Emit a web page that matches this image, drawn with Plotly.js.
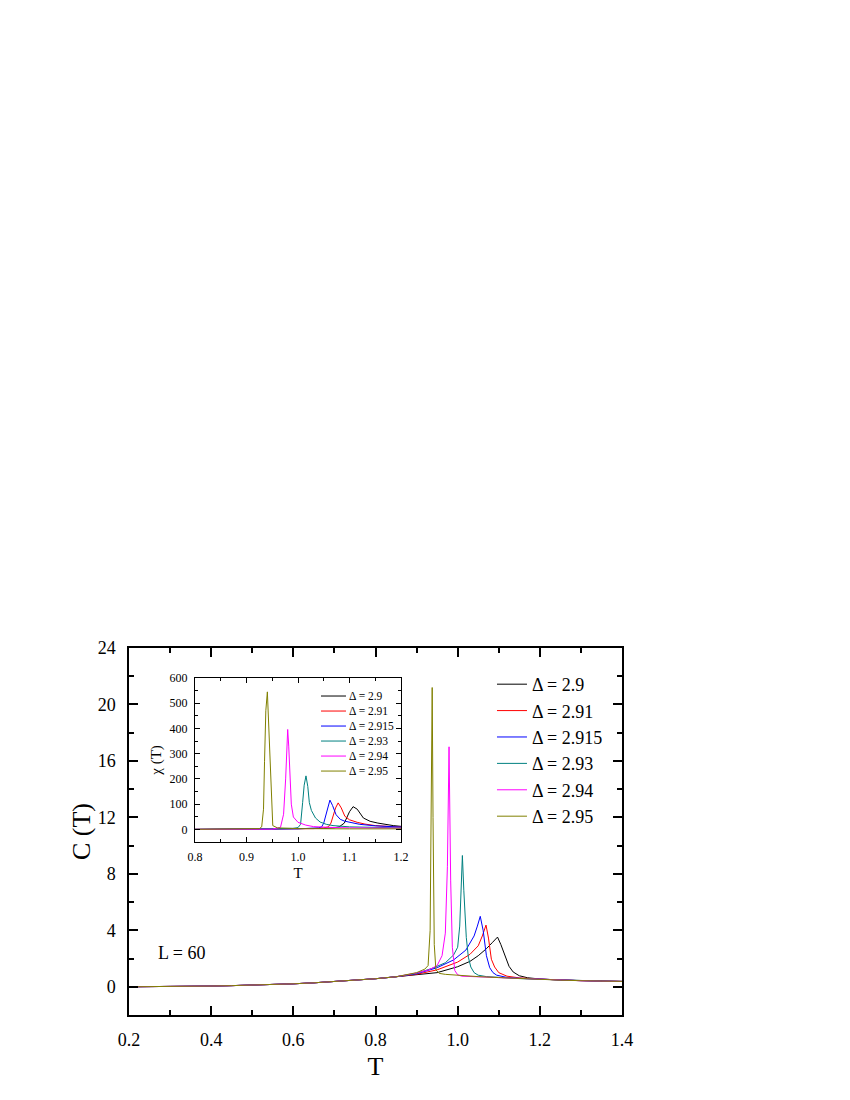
<!DOCTYPE html>
<html>
<head>
<meta charset="utf-8">
<script src="https://cdn.plot.ly/plotly-3.0.1.min.js"></script>
<style>html,body{margin:0;padding:0;background:#fff;}</style>
</head>
<body>
<div id="chart" style="width:850px;height:1100px;"></div>
<script>
// ---- Labels and colours ----
const deltaLabels = ['Δ = 2.9', 'Δ = 2.91', 'Δ = 2.915', 'Δ = 2.93', 'Δ = 2.94', 'Δ = 2.95'];
const lineColors = ['#000000', '#ff0000', '#0000ff', '#008080', '#ff00ff', '#808000'];

// ---- Main panel: specific heat C(T), L = 60 ----
// common low-temperature part (curves overlap)
const baseT = [0.2, 0.25, 0.3, 0.35, 0.4, 0.45, 0.5, 0.55, 0.6, 0.65, 0.7, 0.75, 0.8, 0.85];
const baseC = [0.0, 0.005, 0.015, 0.03, 0.05, 0.08, 0.11, 0.16, 0.21, 0.28, 0.36, 0.46, 0.57, 0.71];

const T_d290 = [0.9, 0.95, 1.0, 1.03, 1.05, 1.07, 1.085, 1.097, 1.105, 1.115, 1.125, 1.135, 1.15, 1.17, 1.2, 1.25, 1.3, 1.35, 1.4];
const C_d290 = [0.86, 1.0, 1.42, 1.8, 2.2, 2.7, 3.15, 3.52, 3.0, 2.15, 1.45, 1.05, 0.78, 0.64, 0.55, 0.48, 0.43, 0.4, 0.38];

const T_d291 = [0.9, 0.95, 1.0, 1.03, 1.05, 1.06, 1.069, 1.075, 1.082, 1.09, 1.1, 1.12, 1.15, 1.2, 1.25, 1.3, 1.35, 1.4];
const C_d291 = [0.88, 1.2, 1.75, 2.3, 2.9, 3.6, 4.37, 3.45, 1.95, 1.4, 1.0, 0.75, 0.63, 0.54, 0.47, 0.43, 0.4, 0.38];

const T_d2915 = [0.9, 0.95, 0.99, 1.02, 1.04, 1.048, 1.055, 1.062, 1.066, 1.07, 1.078, 1.086, 1.095, 1.12, 1.15, 1.2, 1.25, 1.3, 1.35, 1.4];
const C_d2915 = [0.92, 1.35, 1.9, 2.6, 3.6, 4.3, 4.99, 4.0, 3.1, 2.2, 1.35, 1.0, 0.82, 0.66, 0.6, 0.53, 0.47, 0.43, 0.4, 0.38];

const T_d293 = [0.9, 0.94, 0.97, 0.99, 1.0, 1.005, 1.0085, 1.0115, 1.015, 1.018, 1.021, 1.026, 1.032, 1.04, 1.05, 1.07, 1.1, 1.15, 1.2, 1.25, 1.3, 1.35, 1.4];
const C_d293 = [0.95, 1.33, 1.7, 2.25, 2.8, 4.3, 6.5, 9.3, 6.8, 4.5, 3.5, 2.1, 1.4, 1.0, 0.82, 0.72, 0.65, 0.58, 0.53, 0.47, 0.43, 0.4, 0.38];

const T_d294 = [0.9, 0.93, 0.95, 0.962, 0.97, 0.975, 0.979, 0.983, 0.987, 0.993, 1.0, 1.01, 1.05, 1.1, 1.15, 1.2, 1.25, 1.3, 1.35, 1.4];
const C_d294 = [0.98, 1.2, 1.5, 2.2, 3.8, 8.5, 17.0, 7.5, 2.8, 1.15, 0.85, 0.75, 0.7, 0.63, 0.57, 0.52, 0.47, 0.43, 0.4, 0.38];

const T_d295 = [0.9, 0.92, 0.928, 0.933, 0.936, 0.938, 0.940, 0.943, 0.947, 0.955, 0.97, 1.0, 1.05, 1.1, 1.15, 1.2, 1.25, 1.3, 1.35, 1.4];
const C_d295 = [1.0, 1.25, 1.5, 4.0, 12.0, 21.2, 12.0, 3.0, 1.2, 0.95, 0.88, 0.8, 0.72, 0.65, 0.58, 0.52, 0.47, 0.43, 0.4, 0.38];

// ---- Inset: susceptibility chi(T) ----
const iT_d290 = [0.8, 0.9, 1.0, 1.05, 1.07, 1.08, 1.09, 1.0945, 1.1, 1.107, 1.115, 1.127, 1.14, 1.155, 1.17, 1.185, 1.2];
const iX_d290 = [0, 0.5, 2, 4, 6, 10, 25, 45, 70, 90, 80, 45, 32, 25, 19, 15, 12];

const iT_d291 = [0.8, 0.95, 1.03, 1.05, 1.059, 1.064, 1.0686, 1.073, 1.078, 1.084, 1.091, 1.1, 1.115, 1.13, 1.15, 1.175, 1.2];
const iX_d291 = [0, 1, 3, 6, 10, 25, 52, 85, 105, 85, 52, 38, 28, 21, 15, 11, 9];

const iT_d2915 = [0.8, 0.95, 1.0, 1.04, 1.046, 1.05, 1.054, 1.058, 1.062, 1.067, 1.074, 1.082, 1.09, 1.101, 1.12, 1.15, 1.175, 1.2];
const iX_d2915 = [0, 1, 2, 6, 10, 25, 58, 95, 116, 95, 58, 40, 33, 28, 20, 14, 11, 9];

const iT_d293 = [0.8, 0.95, 0.99, 1.0, 1.005, 1.009, 1.012, 1.0155, 1.019, 1.022, 1.026, 1.034, 1.043, 1.055, 1.068, 1.1, 1.15, 1.2];
const iX_d293 = [0, 1, 4, 7, 20, 106, 175, 212, 170, 106, 75, 45, 29, 20, 15, 10, 7, 6];

const iT_d294 = [0.8, 0.95, 0.966, 0.972, 0.976, 0.98, 0.982, 0.984, 0.987, 0.991, 1.0, 1.015, 1.03, 1.06, 1.1, 1.2];
const iX_d294 = [0, 1, 8, 60, 200, 396, 330, 200, 100, 49, 28, 17, 11, 8, 6, 5];

const iT_d295 = [0.8, 0.9, 0.925, 0.9295, 0.933, 0.935, 0.9375, 0.9405, 0.943, 0.9456, 0.948, 0.951, 0.96, 1.0, 1.1, 1.2];
const iX_d295 = [0, 0.5, 3, 10, 80, 270, 470, 545, 420, 270, 100, 15, 6, 3, 2, 2];

const mainT = [T_d290, T_d291, T_d2915, T_d293, T_d294, T_d295];
const mainC = [C_d290, C_d291, C_d2915, C_d293, C_d294, C_d295];
const insetT = [iT_d290, iT_d291, iT_d2915, iT_d293, iT_d294, iT_d295];
const insetX = [iX_d290, iX_d291, iX_d2915, iX_d293, iX_d294, iX_d295];

const FONT = '"Liberation Serif", "Times New Roman", serif';
const traces = [];
for (let i = 0; i < deltaLabels.length; i++) {
  traces.push({
    x: baseT.concat(mainT[i]), y: baseC.concat(mainC[i]),
    type: 'scatter', mode: 'lines', name: deltaLabels[i],
    line: {color: lineColors[i], width: 1},
    xaxis: 'x', yaxis: 'y', showlegend: true
  });
}
for (let i = 0; i < deltaLabels.length; i++) {
  traces.push({
    x: insetT[i], y: insetX[i],
    type: 'scatter', mode: 'lines', name: deltaLabels[i],
    line: {color: lineColors[i], width: 1},
    xaxis: 'x2', yaxis: 'y2', showlegend: false
  });
}

// inset legend (drawn as shapes + text inside the inset)
const shapes = [];
const annotations = [];
for (let i = 0; i < deltaLabels.length; i++) {
  const yy = 0.89 - i * 0.0915;
  shapes.push({type: 'line', xref: 'x2 domain', yref: 'y2 domain',
    x0: 0.6117, x1: 0.733, y0: yy, y1: yy, line: {color: lineColors[i], width: 1}});
  annotations.push({xref: 'x2 domain', yref: 'y2 domain', x: 0.736, y: yy,
    xanchor: 'left', yanchor: 'middle', showarrow: false, text: deltaLabels[i],
    font: {family: FONT, size: 11.5, color: '#000'}});
}
annotations.push({xref: 'paper', yref: 'paper', x: 0.055, y: 0.168, xanchor: 'left', yanchor: 'middle',
  showarrow: false, text: 'L = 60', font: {family: FONT, size: 18, color: '#000'}});

const axBase = {showgrid: false, zeroline: false, showline: true, linecolor: '#000',
  mirror: 'allticks', ticks: 'inside', tickcolor: '#000'};

const layout = {
  width: 850, height: 1100,
  margin: {l: 129, r: 228, t: 648, b: 85},
  paper_bgcolor: '#fff', plot_bgcolor: '#fff',
  font: {family: FONT, color: '#000'},
  showlegend: true,
  legend: {x: 0.7363, y: 0.951, xanchor: 'left', yanchor: 'top', bgcolor: 'rgba(0,0,0,0)',
    borderwidth: 0, font: {family: FONT, size: 18, color: '#000'}, tracegroupgap: 0},
  xaxis: Object.assign({}, axBase, {
    domain: [0, 1], anchor: 'y', range: [0.2, 1.4], tick0: 0.2, dtick: 0.2, tickformat: '.1f',
    ticklen: 9, tickwidth: 1.5, linewidth: 1.5,
    minor: {dtick: 0.1, ticklen: 5, tickwidth: 1.5, ticks: 'inside', tickcolor: '#000', showgrid: false},
    tickfont: {family: FONT, size: 18}, ticklabelstandoff: 8,
    title: {text: 'T', font: {family: FONT, size: 26}, standoff: 7}
  }),
  yaxis: Object.assign({}, axBase, {
    domain: [0, 1], anchor: 'x', range: [-2, 24], tick0: 0, dtick: 4,
    ticklen: 9, tickwidth: 1.5, linewidth: 1.5,
    minor: {dtick: 2, ticklen: 5, tickwidth: 1.5, ticks: 'inside', tickcolor: '#000', showgrid: false},
    tickfont: {family: FONT, size: 18}, ticklabelstandoff: 8,
    title: {text: 'C (T)', font: {family: FONT, size: 26}, standoff: 0}
  }),
  xaxis2: Object.assign({}, axBase, {
    domain: [0.1339, 0.5517], anchor: 'y2', range: [0.8, 1.2], tick0: 0.8, dtick: 0.1, tickformat: '.1f',
    ticklen: 5, tickwidth: 1, linewidth: 1,
    minor: {dtick: 0.05, ticklen: 3, tickwidth: 1, ticks: 'inside', tickcolor: '#000', showgrid: false},
    tickfont: {family: FONT, size: 12}, ticklabelstandoff: 4,
    title: {text: 'T', font: {family: FONT, size: 15}, standoff: 4}
  }),
  yaxis2: Object.assign({}, axBase, {
    domain: [0.4714, 0.9183], anchor: 'x2', range: [-50, 600], tick0: 0, dtick: 100,
    ticklen: 5, tickwidth: 1, linewidth: 1,
    minor: {dtick: 50, ticklen: 3, tickwidth: 1, ticks: 'inside', tickcolor: '#000', showgrid: false},
    tickfont: {family: FONT, size: 12}, ticklabelstandoff: 4,
    title: {text: 'χ (T)', font: {family: FONT, size: 15}, standoff: 4}
  }),
  shapes: shapes,
  annotations: annotations
};

Plotly.newPlot('chart', traces, layout, {displayModeBar: false, responsive: false});
</script>
</body>
</html>
